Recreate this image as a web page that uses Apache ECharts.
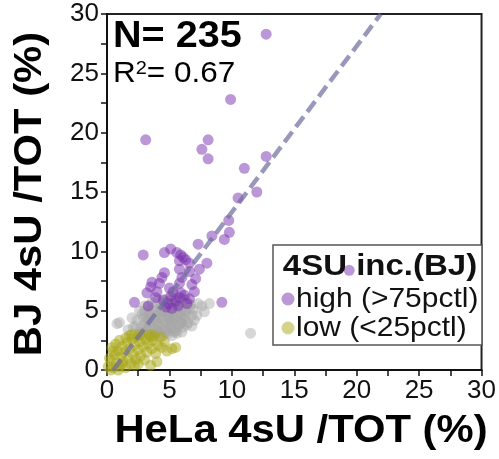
<!DOCTYPE html>
<html>
<head>
<meta charset="utf-8">
<script src="https://cdn.jsdelivr.net/npm/echarts@6/dist/echarts.min.js"></script>
<style>
  html, body { margin: 0; padding: 0; background: #fff; }
  #chart { width: 499px; height: 459px; }
</style>
</head>
<body>
<div id="chart"></div>
<script>
// 4sU / TOT (%) per gene: [HeLa, BJ]
const highGenes = [
  [12.75,28.3],[9.9,22.8],[3.1,19.4],[8.1,19.4],[7.6,18.6],[8.1,17.8],[12.75,18.0],[11.0,17.0],
  [12.0,15.0],[10.5,14.5],[9.75,12.6],[9.8,11.6],[9.4,11.0],[8.4,11.3],[7.3,10.6],[5.1,10.2],
  [19.4,8.4],
  [2.9,9.7],[4.6,9.9],[5.9,9.7],[6.1,9.5],[5.6,9.9],[6.3,9.3],[5.8,9.2],[8.0,9.0],[7.4,8.5],
  [6.6,9.0],[5.8,8.5],[4.6,8.2],[3.6,7.4],[4.2,7.3],[3.2,6.5],[4.0,6.6],[5.0,6.9],[5.8,7.3],
  [5.9,6.5],[6.8,7.2],[7.0,6.6],[5.1,6.2],[2.2,5.7],[9.2,5.7],[4.75,5.3],[5.8,6.1],[6.2,6.3],
  [5.5,5.8],[4.5,5.9],[3.9,6.1],[4.9,5.6],[6.4,5.6],[5.3,6.6],[3.5,7.0],[4.4,7.8],[6.0,7.8],
  [6.6,8.3],[7.1,7.7],[3.3,5.4],[6.6,6.0],[5.2,5.2],[5.7,5.4]
];
const midGenes = [
  [11.5,3.1],[7.6,5.4],[7.2,4.6],[1.0,4.0],[0.8,3.9],[8.2,5.6],[7.8,4.9],[2.1,3.6],[1.7,3.4],[2.6,3.2],
  [3.6,5.7],[4.1,5.9],[4.6,5.5],[5.0,5.8],[5.4,5.6],[5.9,5.7],[6.3,5.9],[6.7,5.5],[4.3,5.3],[3.9,5.0],
  [5.6,5.1],[6.1,5.3],[6.9,5.1],[7.3,5.6],
  [3.0,4.9],[3.4,4.7],[3.7,5.2],[4.0,4.6],[4.4,4.9],[4.8,4.7],[5.1,5.0],[5.3,4.6],[5.7,4.8],[6.0,4.5],
  [6.4,4.9],[6.8,4.6],[3.2,4.5],[4.6,5.1],[5.5,5.3],[6.2,5.0],[2.8,4.7],[4.2,5.1],[5.0,4.4],[6.6,5.2],
  [2.4,4.2],[2.9,4.4],[3.3,4.1],[3.6,4.4],[3.9,4.1],[4.3,4.3],[4.7,4.0],[5.0,4.2],[5.4,4.4],[5.8,4.1],
  [6.2,4.3],[6.5,4.0],[3.1,4.0],[4.5,4.5],[5.2,4.0],[5.6,4.5],[6.0,4.0],[3.5,3.9],[4.1,3.9],[4.9,4.5],
  [2.0,4.4],[7.0,4.2],
  [2.3,3.7],[2.7,3.5],[3.0,3.8],[3.4,3.6],[3.8,3.5],[4.2,3.7],[4.6,3.5],[5.0,3.8],[5.3,3.5],[5.7,3.7],
  [6.1,3.6],[6.4,3.8],[3.2,3.4],[4.0,3.3],[4.4,3.9],[4.8,3.3],[5.5,3.3],[5.9,3.9],[2.9,3.2],[6.8,3.7],
  [3.6,3.3],[5.1,3.6],
  [3.3,3.0],[3.7,2.9],[4.1,3.1],[4.5,2.9],[4.9,3.1],[5.2,2.9],[5.6,3.1],[6.0,3.2],[4.3,3.2],[3.9,3.1],
  [4.7,3.2],[5.4,3.2],
  [4.4,5.7],[5.2,5.9],[3.3,5.3],[5.8,5.4],[6.5,5.6],[4.8,6.0],[2.6,5.0],[3.0,5.4],[5.4,6.0],[6.0,6.0],
  [3.5,4.8],[4.9,4.9],[5.9,4.7],[4.3,4.7],[3.8,4.3],[5.3,4.2],[6.3,4.6]
];
const lowGenes = [
  [0.1,0.3],[0.3,0.8],[0.5,0.2],[0.6,1.3],[0.8,0.6],[0.9,1.6],[1.0,0.3],[1.1,1.1],[1.2,2.0],[1.3,0.7],
  [1.4,1.5],[1.5,0.2],[1.6,2.3],[1.7,1.0],[1.8,1.8],[1.9,0.5],[2.0,2.6],[2.1,1.3],[2.2,2.1],[2.3,0.9],
  [2.4,2.8],[2.5,1.7],[2.6,2.4],[2.7,1.2],[2.8,2.9],[2.9,2.0],[3.0,0.85],[3.1,2.6],[3.2,1.5],[3.3,2.2],
  [3.5,2.8],[3.6,1.8],[3.7,2.5],[3.9,1.4],[4.0,0.7],[4.1,2.1],[4.4,1.9],[4.6,2.4],[5.2,1.8],[5.5,1.9],
  [4.8,1.6],[0.2,1.0],[0.4,1.9],[0.7,2.2],[1.0,2.5],[1.5,2.7],[2.0,3.0],[2.6,3.0],[3.4,3.0],[0.3,0.0],
  [0.9,0.0],[1.2,0.5],[2.2,0.4],[3.5,0.4],[2.5,0.5],[0.5,1.6],[1.8,2.9],[3.8,2.9],[4.3,2.8]
];

// linear fit BJ = slope * HeLa + intercept
const fitSlope = 1.40;
const fitIntercept = -0.7;
const fitYRange = [0, 30];

const axisTicks = [0, 5, 10, 15, 20, 25, 30];
const legendNames = ['high (>75pctl)', 'low (<25pctl)'];

const fitLine = fitYRange.map(y => [(y - fitIntercept) / fitSlope, y]);

const FONT = '"Liberation Sans", Arial, Helvetica, sans-serif';
const COLORS = { high: '#7a2fb0', mid: '#a6a6a6', low: '#a9a818' };

const axisCommon = {
  min: axisTicks[0],
  max: axisTicks[axisTicks.length - 1],
  interval: 2.5,
  axisLine: { show: true, lineStyle: { color: '#111', width: 2 } },
  axisTick: { show: true, inside: false, length: 6, lineStyle: { color: '#111', width: 1.5 } },
  splitLine: { show: false },
  axisLabel: {
    color: '#111', fontFamily: FONT, fontSize: 26,
    formatter: v => (axisTicks.indexOf(v) >= 0 ? String(v) : '')
  }
};

// legend box: title plus one row per coloured group
const legendBox = { x: 273, y: 245, w: 209, h: 100 };
const legendRows = [
  { name: legendNames[0], color: COLORS.high, y: 299 },
  { name: legendNames[1], color: COLORS.low, y: 328 }
];
const legendGraphics = [
  { type: 'rect', z: 0, shape: { x: legendBox.x, y: legendBox.y, width: legendBox.w, height: legendBox.h },
    style: { fill: '#fff', stroke: '#555', lineWidth: 1.5 } },
  { type: 'text', z: 10, x: 380, y: 267, scaleX: 1.1,
    style: { x: 0, y: 0, text: '4SU inc.(BJ)', textAlign: 'center', textVerticalAlign: 'middle',
    font: 'bold 30px ' + FONT, fill: '#111' } }
];
legendRows.forEach(r => {
  legendGraphics.push({ type: 'circle', z: 10, shape: { cx: 288, cy: r.y, r: 6.5 },
    style: { fill: r.color, opacity: 0.5 } });
  legendGraphics.push({ type: 'text', z: 10, x: 296, y: r.y, scaleX: 1.07,
    style: { x: 0, y: 0, text: r.name, textAlign: 'left', textVerticalAlign: 'middle',
    font: '28px ' + FONT, fill: '#111' } });
});

const chart = echarts.init(document.getElementById('chart'), null, { renderer: 'canvas' });
chart.setOption({
  animation: false,
  backgroundColor: '#fff',
  grid: {
    left: 107, right: 12, top: 14, bottom: 89,
    show: true, borderColor: '#222', borderWidth: 2, backgroundColor: 'transparent'
  },
  xAxis: Object.assign({}, axisCommon, {
    type: 'value',
    axisLabel: Object.assign({}, axisCommon.axisLabel, { margin: 8 })
  }),
  yAxis: Object.assign({}, axisCommon, {
    type: 'value',
    axisLabel: Object.assign({}, axisCommon.axisLabel, { margin: 8 })
  }),
  graphic: legendGraphics.concat([
    { type: 'text', z: 10, x: 113, y: 37, scaleX: 1.07,
      style: { x: 0, y: 0, text: 'N= 235', textAlign: 'left', textVerticalAlign: 'middle',
      font: 'bold 37px ' + FONT, fill: '#000' } },
    { type: 'text', z: 10, x: 113, y: 74, scaleX: 1.05,
      style: { x: 0, y: 0,
      text: '{r|R}{s|2}{r|= 0.67}', textAlign: 'left', textVerticalAlign: 'middle',
      rich: { r: { fontFamily: FONT, fontSize: 30, color: '#111' },
              s: { fontFamily: FONT, fontSize: 19, color: '#111', verticalAlign: 'top', padding: [0, 0, 10, 0] } } } },
    { type: 'text', z: 10, x: 301, y: 432, scaleX: 1.1,
      style: { x: 0, y: 0, text: 'HeLa 4sU /TOT (%)', textAlign: 'center', textVerticalAlign: 'middle',
      font: 'bold 38px ' + FONT, fill: '#000' } },
    { type: 'text', z: 10, rotation: Math.PI / 2, x: 31, y: 194, scaleX: 1.1,
      style: { x: 0, y: 0, text: 'BJ 4sU /TOT (%)', textAlign: 'center', textVerticalAlign: 'middle',
      font: 'bold 38px ' + FONT, fill: '#000' } }
  ]),
  series: [
    { name: 'mid', type: 'scatter', data: midGenes, symbolSize: 11, z: 3,
      itemStyle: { color: COLORS.mid, opacity: 0.45 } },
    { name: legendNames[1], type: 'scatter', data: lowGenes, symbolSize: 11, z: 3,
      itemStyle: { color: COLORS.low, opacity: 0.5 } },
    { name: legendNames[0], type: 'scatter', data: highGenes, symbolSize: 11, z: 3,
      itemStyle: { color: COLORS.high, opacity: 0.5 } },
    { name: 'fit', type: 'line', data: fitLine, symbol: 'none', z: 4,
      lineStyle: { color: '#6f6c9c', width: 4.5, type: [13, 6], opacity: 0.7 } }
  ]
});
</script>
</body>
</html>
